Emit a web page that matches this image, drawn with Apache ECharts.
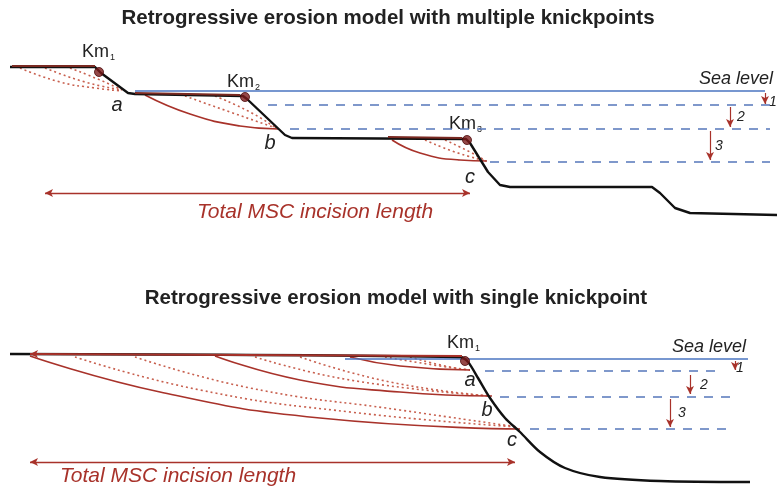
<!DOCTYPE html>
<html><head><meta charset="utf-8">
<script src="https://cdn.jsdelivr.net/npm/echarts@6/dist/echarts.min.js"></script>
<style>html,body{margin:0;background:#fff}#c{width:777px;height:488px}</style>
</head><body><div id="c"></div>
<script>
// top panel: multiple knickpoints (pixel-space coordinates)
var topProfile = [[10,67],[95,67],[101,73],[128,93],[135,94],[243,96],[247,99],[285,135],[292,138],[466,139],[470,143],[488,172],[500,185],[510,187],[652,187],[660,193],[675,208],[690,213],[777,215]];
var topTerrace = [[[12,66],[95,66]],[[135,93],[240,95]],[[388,137],[462,138]]];
var topSolid = [[[145,95],[190,114],[240,126],[278,129]],[[392,140],[420,153],[460,160],[487,161]]];
var topDotted = [
  [[20,68],[60,82],[95,88],[122,91]],[[45,68],[85,82],[122,90]],[[70,68],[100,80],[122,90]],
  [[185,96],[230,112],[276,128]],[[215,96],[250,112],[276,128]],
  [[425,140],[455,152],[486,161]],[[445,140],[470,152],[486,161]]
];
var topSea = [[135,91],[765,91]];
var topDashes = [[[268,105],[770,105]],[[290,129],[770,129]],[[490,162],[770,162]]];
var topDrops = [[[765,93],[765,104]],[[730,107],[730,127]],[[710,131],[710,160]]];
var topKm = [[99,72],[245,97],[467,140]];

// bottom panel: single knickpoint
var botProfile = [[10,354],[460,357],[468,362],[478,378],[490,398],[505,418],[520,432],[540,452],[565,468],[600,477],[660,481],[750,482]];
var botTop = [[30,354],[462,356]];
var botSolid = [[[30,356],[160,392],[320,418],[520,429]],[[215,356],[300,380],[400,392],[492,396]],[[350,357],[400,366],[470,370]]];
var botDotted = [
  [[75,357],[200,390],[350,412],[518,427]],[[135,357],[250,388],[400,410],[518,427]],
  [[255,357],[350,380],[490,396]],[[300,357],[390,382],[490,396]],
  [[385,357],[440,366],[470,370]],[[410,357],[445,366],[470,370]]
];
var botSea = [[345,359],[748,359]];
var botDashes = [[[485,371],[718,371]],[[500,397],[730,397]],[[530,429],[730,429]]];
var botDrops = [[[735,361],[735,370]],[[690,375],[690,394]],[[670,399],[670,427]]];
var botKm = [[465,361]];

var RED = '#a8322a', BLUE = '#4a74c0', DASH = '#5577bb';
var series = [];
function line(pts, color, width, type, z) {
  series.push({type:'line', data:pts, smooth:pts.length>2, symbol:'none', silent:true, z:z||2,
    lineStyle:{color:color, width:width, type:type||'solid'}});
}
function arrow(a, b, both, color, width) {
  series.push({type:'line', data:[], markLine:{silent:true, symbol:[both?'arrow':'none','arrow'], symbolSize:[6,8],
    label:{show:false}, lineStyle:{color:color, width:width, type:'solid'},
    data:[[{coord:a},{coord:b}]]}});
}
topDotted.concat(botDotted).forEach(function(p){ line(p, '#c8604f', 1.6, [2,3]); });
topSolid.concat(botSolid).forEach(function(p){ line(p, RED, 1.6); });
line(topSea, BLUE, 1.5); line(botSea, BLUE, 1.5);
topDashes.concat(botDashes).forEach(function(p){ line(p, DASH, 1.4, [9,8]); });
series.push({type:'line', data:topProfile, symbol:'none', lineStyle:{color:'#111', width:2.4}, z:4, silent:true});
series.push({type:'line', data:botProfile, smooth:0.3, symbol:'none', lineStyle:{color:'#111', width:2.4}, z:4, silent:true});
topTerrace.forEach(function(p){ line(p, '#7a2a22', 2.2, 'solid', 5); });
arrow(botTop[1], botTop[0], false, RED, 1.8);
topDrops.concat(botDrops).forEach(function(p){ arrow(p[0], p[1], false, RED, 1.2); });
arrow([470,193],[45,193], true, RED, 1.4);
arrow([515,462],[30,462], true, RED, 1.4);
series.push({type:'scatter', data:topKm.concat(botKm), symbolSize:9, z:6,
  itemStyle:{color:'#7a1a1a', borderColor:'#4a0a0a', borderWidth:1}});

function txt(x, y, s, o) {
  o = o || {};
  return {type:'text', x:x, y:y, style:{text:s, fill:o.c||'#222', font:(o.i?'italic ':'')+(o.b?'bold ':'')+(o.s||16)+'px Arial, Liberation Sans',
    align:o.a||'center', verticalAlign:'middle'}};
}
var g = [
  txt(388,18,'Retrogressive erosion model with multiple knickpoints',{b:1,s:20.5}),
  txt(396,298,'Retrogressive erosion model with single knickpoint',{b:1,s:20.5}),
  txt(315,212,'Total MSC incision length',{i:1,c:RED,s:21}),
  txt(178,476,'Total MSC incision length',{i:1,c:RED,s:21}),
  txt(773,79,'Sea level',{i:1,s:18,a:'right'}),
  txt(746,347,'Sea level',{i:1,s:18,a:'right'}),
  txt(117,105,'a',{i:1,s:20}), txt(270,143,'b',{i:1,s:20}), txt(470,177,'c',{i:1,s:20}),
  txt(470,380,'a',{i:1,s:20}), txt(487,410,'b',{i:1,s:20}), txt(512,440,'c',{i:1,s:20}),
  txt(773,102,'1',{i:1,s:14}), txt(741,117,'2',{i:1,s:14}), txt(719,146,'3',{i:1,s:14}),
  txt(740,368,'1',{i:1,s:14}), txt(704,385,'2',{i:1,s:14}), txt(682,413,'3',{i:1,s:14})
];
[[99,52,1],[244,82,2],[466,124,3],[464,343,1]].forEach(function(k){
  g.push(txt(k[0]+10,k[1],'Km',{s:18,a:'right'}));
  g.push(txt(k[0]+11,k[1]+6,String(k[2]),{s:9,a:'left'}));
});

var chart = echarts.init(document.getElementById('c'));
chart.setOption({
  animation:false,
  grid:{left:0,right:0,top:0,bottom:0},
  xAxis:{type:'value', min:0, max:777, show:false},
  yAxis:{type:'value', min:0, max:488, inverse:true, show:false},
  series:series,
  graphic:g
});
</script></body></html>
